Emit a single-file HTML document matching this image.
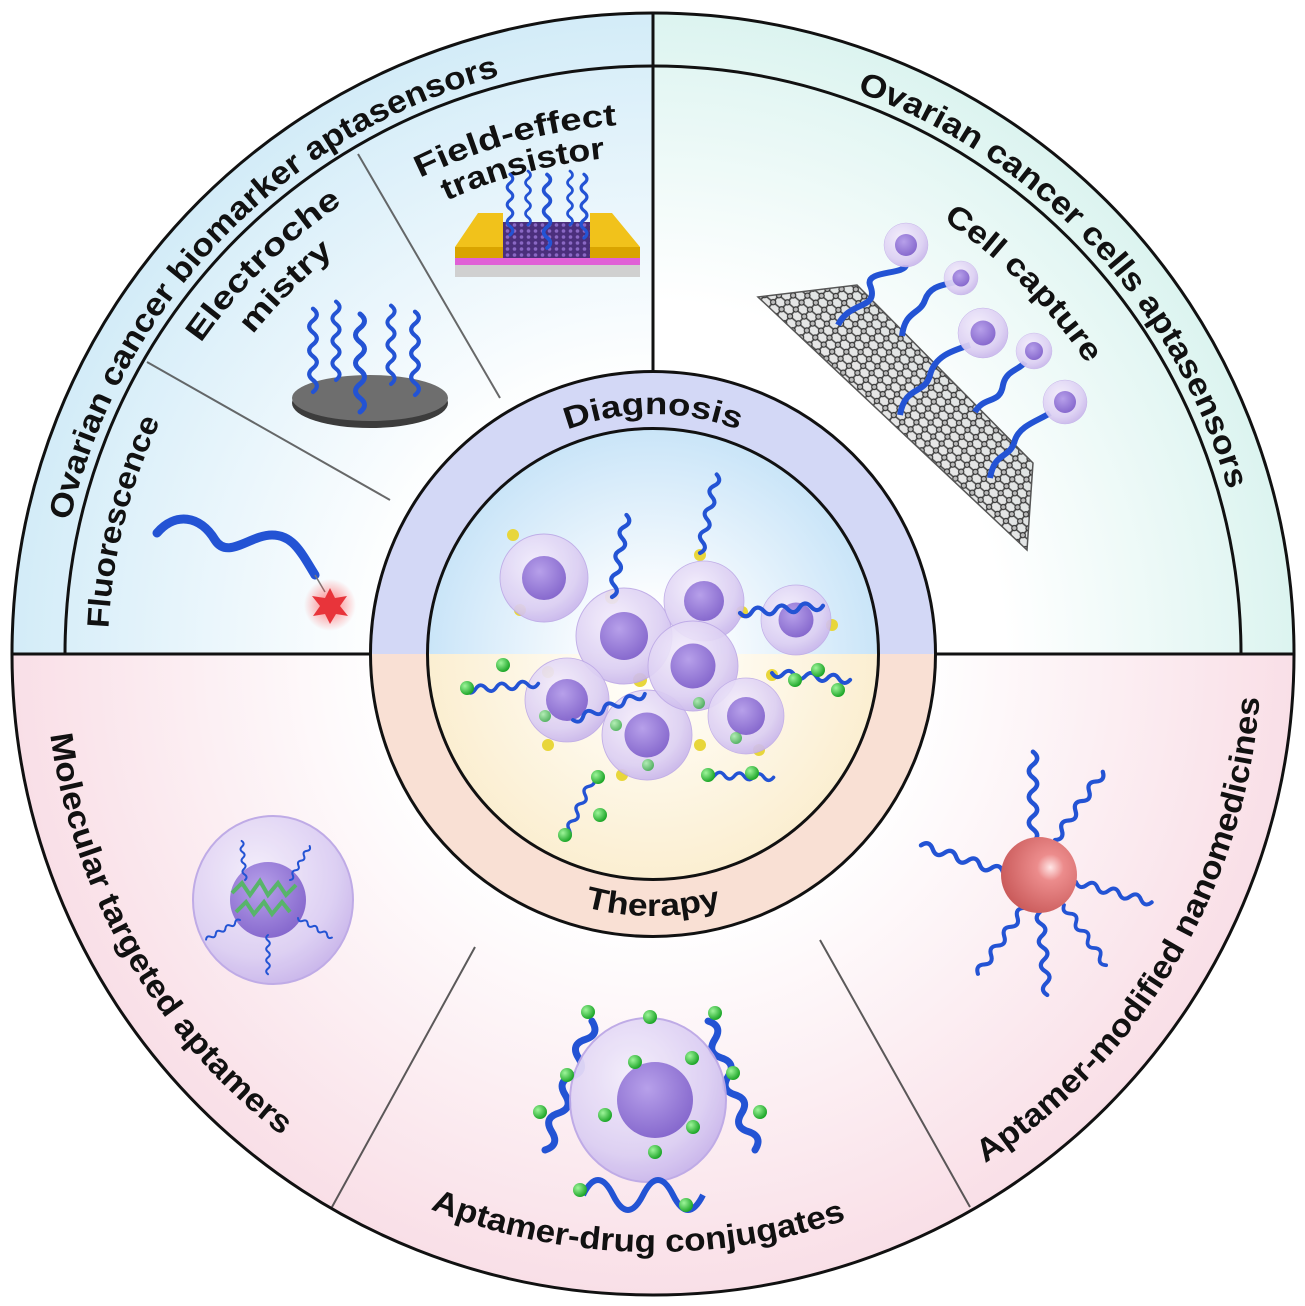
<!DOCTYPE html>
<html><head><meta charset="utf-8"><style>
html,body{margin:0;padding:0;background:#fff}
svg{display:block}
text{font-family:"Liberation Sans",Arial,sans-serif;font-weight:bold;fill:#111}
</style></head><body>
<svg width="1305" height="1306" viewBox="0 0 1305 1306" xmlns="http://www.w3.org/2000/svg">
<defs>
<clipPath id="outer"><circle cx="653" cy="654" r="641"/></clipPath>
<radialGradient id="gUL" cx="653" cy="654" r="640" gradientUnits="userSpaceOnUse">
<stop offset="0.42" stop-color="#ffffff"/><stop offset="1" stop-color="#d3ecf8"/></radialGradient>
<radialGradient id="gUR" cx="653" cy="654" r="640" gradientUnits="userSpaceOnUse">
<stop offset="0.55" stop-color="#ffffff"/><stop offset="1" stop-color="#dcf4f0"/></radialGradient>
<radialGradient id="gLo" cx="653" cy="654" r="640" gradientUnits="userSpaceOnUse">
<stop offset="0.42" stop-color="#ffffff"/><stop offset="1" stop-color="#f9dfe7"/></radialGradient>
<radialGradient id="gInTop" cx="653" cy="654" r="230" gradientUnits="userSpaceOnUse">
<stop offset="0.2" stop-color="#ffffff"/><stop offset="1" stop-color="#c8e4f8"/></radialGradient>
<radialGradient id="gInBot" cx="653" cy="654" r="230" gradientUnits="userSpaceOnUse">
<stop offset="0.2" stop-color="#fffdf6"/><stop offset="1" stop-color="#fbeed0"/></radialGradient>
<radialGradient id="cellG" cx="0.4" cy="0.35" r="0.7">
<stop offset="0" stop-color="#f4eefc"/><stop offset="0.7" stop-color="#dccff3"/><stop offset="1" stop-color="#c6b2ea"/></radialGradient>
<radialGradient id="nucG" cx="0.4" cy="0.35" r="0.7">
<stop offset="0" stop-color="#b7a0ea"/><stop offset="1" stop-color="#8466cc"/></radialGradient>
<radialGradient id="sphG" cx="0.65" cy="0.4" r="0.7">
<stop offset="0" stop-color="#ffe6e6"/><stop offset="0.25" stop-color="#ec8c8c"/><stop offset="1" stop-color="#c85858"/></radialGradient>
<radialGradient id="glow" cx="0.5" cy="0.5" r="0.5">
<stop offset="0" stop-color="#ff4040" stop-opacity="0.7"/><stop offset="1" stop-color="#ff4040" stop-opacity="0"/></radialGradient>
<radialGradient id="ballG" cx="0.35" cy="0.35" r="0.65">
<stop offset="0" stop-color="#9ef59a"/><stop offset="1" stop-color="#1fa72a"/></radialGradient>
<pattern id="graph" width="11" height="9" patternUnits="userSpaceOnUse" patternTransform="rotate(40)">
<rect width="11" height="9" fill="#9a9a9a" opacity="0.25"/>
<path d="M0 4.5 H11 M5.5 0 V9" stroke="#444" stroke-width="1.6" fill="none"/>
<circle cx="5.5" cy="4.5" r="2.6" fill="#bbb" stroke="#333" stroke-width="1.2"/></pattern>
<pattern id="fetg" width="7" height="6" patternUnits="userSpaceOnUse">
<rect width="7" height="6" fill="#4b2f7c"/><circle cx="3.5" cy="3" r="1.8" fill="#8a68c4"/></pattern>
<path id="hx" d="M0 0 q9 -7 0 -14 t0 -14 t0 -14 t0 -14 t0 -14 t0 -14 t0 -14" fill="none" stroke="#2353d4" stroke-width="5" stroke-linecap="round"/>
<g id="cell"><circle r="1" fill="url(#cellG)" stroke="#bda9e6" stroke-width="0.02" opacity="0.92"/><circle r="0.5" fill="url(#nucG)"/></g>
<path id="a1" d="M56.4 612.3 A598 598 0 0 1 590.5 59.3"/>
<path id="a2" d="M725.9 60.5 A598 598 0 0 1 1250.2 622.7"/>
<path id="a3" d="M129.0 804.3 A545 545 0 0 1 261.0 275.4"/>
<path id="a4" d="M121.8 511.7 A545 545 0 0 1 512.1 127.6"/>
<path id="a4b" d="M158.5 521.3 A512 512 0 0 1 520.5 159.5"/>
<path id="a5" d="M278.2 279.2 A530 530 0 0 1 790.2 142.1"/>
<path id="a5b" d="M300.9 301.9 A498 498 0 0 1 781.9 173.0"/>
<path id="a6" d="M788.1 149.8 A522 522 0 0 1 1157.2 518.9"/>
<path id="a7" d="M445.2 534 A240 240 0 0 1 860.8 534"/>
<path id="a8" d="M426.1 785 A262 262 0 0 0 879.9 785"/>
<path id="a9" d="M54.2 548.4 A608 608 0 0 0 445 1225.4"/>
<path id="a10" d="M256.8 1101.9 A598 598 0 0 0 1025.3 1122"/>
<path id="a11" d="M856 1227.1 A608 608 0 0 0 1252.7 553.7"/>
</defs>

<g clip-path="url(#outer)">
<rect x="0" y="0" width="653" height="654" fill="url(#gUL)"/>
<rect x="653" y="0" width="652" height="654" fill="url(#gUR)"/>
<rect x="0" y="654" width="1305" height="652" fill="url(#gLo)"/>
</g>

<!-- lines -->
<path d="M65 654 A588 588 0 0 1 1241 654" fill="none" stroke="#111" stroke-width="3"/>
<line x1="12" y1="654" x2="1294" y2="654" stroke="#111" stroke-width="3"/>
<line x1="653" y1="13" x2="653" y2="372" stroke="#111" stroke-width="3"/>
<line x1="147" y1="362" x2="390" y2="500" stroke="#444" stroke-width="2" opacity="0.8"/>
<line x1="358" y1="154" x2="500" y2="398" stroke="#444" stroke-width="2" opacity="0.8"/>
<line x1="475" y1="947" x2="332" y2="1207" stroke="#333" stroke-width="2" opacity="0.8"/>
<line x1="820" y1="940" x2="970" y2="1207" stroke="#333" stroke-width="2" opacity="0.8"/>
<circle cx="653" cy="654" r="641" fill="none" stroke="#111" stroke-width="3"/>

<!-- center ring -->
<path d="M370.5 654 A282.5 282.5 0 0 1 935.5 654 Z" fill="#d3d8f6"/>
<path d="M370.5 654 A282.5 282.5 0 0 0 935.5 654 Z" fill="#f9e0d4"/>
<path d="M427.5 654 A225.5 225.5 0 0 1 878.5 654 Z" fill="url(#gInTop)"/>
<path d="M427.5 654 A225.5 225.5 0 0 0 878.5 654 Z" fill="url(#gInBot)"/>
<circle cx="653" cy="654" r="282.5" fill="none" stroke="#111" stroke-width="3"/>
<circle cx="653" cy="654" r="225.5" fill="none" stroke="#111" stroke-width="3"/>

<!-- texts -->
<text font-size="32"><textPath href="#a1" startOffset="50%" text-anchor="middle" textLength="650" lengthAdjust="spacingAndGlyphs">Ovarian cancer biomarker aptasensors</textPath></text>
<text font-size="32"><textPath href="#a2" startOffset="50%" text-anchor="middle" textLength="565" lengthAdjust="spacingAndGlyphs">Ovarian cancer cells aptasensors</textPath></text>
<text font-size="31"><textPath href="#a3" startOffset="50%" text-anchor="middle" textLength="215" lengthAdjust="spacingAndGlyphs">Fluorescence</textPath></text>
<text font-size="31"><textPath href="#a4" startOffset="50%" text-anchor="middle" textLength="200" lengthAdjust="spacingAndGlyphs">Electroche</textPath></text>
<text font-size="31"><textPath href="#a4b" startOffset="50%" text-anchor="middle" textLength="115" lengthAdjust="spacingAndGlyphs">mistry</textPath></text>
<text font-size="31"><textPath href="#a5" startOffset="50%" text-anchor="middle" textLength="205" lengthAdjust="spacingAndGlyphs">Field-effect</textPath></text>
<text font-size="31"><textPath href="#a5b" startOffset="50%" text-anchor="middle" textLength="165" lengthAdjust="spacingAndGlyphs">transistor</textPath></text>
<text font-size="31"><textPath href="#a6" startOffset="50%" text-anchor="middle" textLength="205" lengthAdjust="spacingAndGlyphs">Cell capture</textPath></text>
<text font-size="31"><textPath href="#a7" startOffset="50%" text-anchor="middle" textLength="175" lengthAdjust="spacingAndGlyphs">Diagnosis</textPath></text>
<text font-size="31"><textPath href="#a8" startOffset="50%" text-anchor="middle" textLength="138" lengthAdjust="spacingAndGlyphs">Therapy</textPath></text>
<text font-size="32"><textPath href="#a9" startOffset="50%" text-anchor="middle" textLength="475" lengthAdjust="spacingAndGlyphs">Molecular targeted aptamers</textPath></text>
<text font-size="32"><textPath href="#a10" startOffset="50%" text-anchor="middle" textLength="425" lengthAdjust="spacingAndGlyphs">Aptamer-drug conjugates</textPath></text>
<text font-size="32"><textPath href="#a11" startOffset="50%" text-anchor="middle" textLength="560" lengthAdjust="spacingAndGlyphs">Aptamer-modified nanomedicines</textPath></text>

<!-- Fluorescence probe -->
<path d="M157 533 C175 512 200 515 215 540 C228 560 250 535 272 535 C292 535 300 550 315 575" fill="none" stroke="#2353d4" stroke-width="9" stroke-linecap="round"/>
<path d="M315 575 L325 592" stroke="#777" stroke-width="1.5"/>
<circle cx="330" cy="605" r="26" fill="url(#glow)"/>
<polygon points="330,588 335,598 347,596 340,606 348,616 336,614 330,624 325,614 313,616 320,606 312,596 325,598" fill="#e8343a"/>

<!-- Electrode -->
<ellipse cx="370" cy="403" rx="78" ry="25" fill="#3c3c3c"/>
<ellipse cx="370" cy="398" rx="78" ry="23" fill="#6e6e6e"/>
<use href="#hx" transform="translate(313,392) scale(0.85)"/>
<use href="#hx" transform="translate(336,380) scale(0.8)"/>
<use href="#hx" transform="translate(360,412) scale(1.0)"/>
<use href="#hx" transform="translate(391,384) scale(0.8)"/>
<use href="#hx" transform="translate(415,395) scale(0.85)"/>

<!-- FET -->
<rect x="455" y="265" width="185" height="12" fill="#d0d0d0"/>
<rect x="455" y="258" width="185" height="7" fill="#e060d6"/>
<polygon points="503,222 590,222 600,258 490,258" fill="url(#fetg)"/>
<polygon points="455,247 478,213 503,213 503,247" fill="#f1c21b"/>
<rect x="455" y="247" width="48" height="11" fill="#d9a400"/>
<polygon points="590,213 612,213 640,247 590,247" fill="#f1c21b"/>
<rect x="590" y="247" width="50" height="11" fill="#d9a400"/>
<use href="#hx" transform="translate(510,235) scale(0.62)"/>
<use href="#hx" transform="translate(528,225) scale(0.55)"/>
<use href="#hx" transform="translate(547,248) scale(0.75)"/>
<use href="#hx" transform="translate(570,225) scale(0.55)"/>
<use href="#hx" transform="translate(584,238) scale(0.65)"/>

<!-- graphene & cells -->
<polygon points="758,297 857,285 1033,463 1027,550" fill="url(#graph)" stroke="#555" stroke-width="1.5"/>
<path d="M838 325 C850 300 880 310 870 285 C865 270 905 275 906 265" fill="none" stroke="#2353d4" stroke-width="6"/>
<path d="M902 336 C905 310 920 315 925 300 C930 285 945 285 955 282" fill="none" stroke="#2353d4" stroke-width="6"/>
<path d="M900 415 C905 385 925 395 930 375 C935 355 955 350 970 345" fill="none" stroke="#2353d4" stroke-width="6"/>
<path d="M975 412 C985 395 1000 405 1003 385 C1006 370 1020 370 1025 362" fill="none" stroke="#2353d4" stroke-width="6"/>
<path d="M990 478 C995 450 1010 460 1015 440 C1020 425 1040 420 1050 413" fill="none" stroke="#2353d4" stroke-width="6"/>
<use href="#cell" transform="translate(906,245) scale(22)"/>
<use href="#cell" transform="translate(961,278) scale(17)"/>
<use href="#cell" transform="translate(983,333) scale(25)"/>
<use href="#cell" transform="translate(1034,351) scale(18)"/>
<use href="#cell" transform="translate(1065,402) scale(22)"/>

<!-- center cluster -->
<g fill="#e8d63a">
<circle cx="513" cy="535" r="6"/><circle cx="520" cy="610" r="6"/><circle cx="612" cy="597" r="7"/><circle cx="700" cy="555" r="6"/>
<circle cx="742" cy="612" r="6"/><circle cx="832" cy="625" r="6"/><circle cx="548" cy="672" r="6"/><circle cx="640" cy="680" r="7"/>
<circle cx="772" cy="675" r="6"/><circle cx="548" cy="745" r="6"/><circle cx="700" cy="745" r="6"/><circle cx="759" cy="750" r="6"/><circle cx="622" cy="775" r="6"/>
</g>
<use href="#cell" transform="translate(544,578) scale(44)"/>
<use href="#cell" transform="translate(624,636) scale(48)"/>
<use href="#cell" transform="translate(704,601) scale(40)"/>
<use href="#cell" transform="translate(796,620) scale(35)"/>
<use href="#cell" transform="translate(567,700) scale(42)"/>
<use href="#cell" transform="translate(647,735) scale(45)"/>
<use href="#cell" transform="translate(693,666) scale(45)"/>
<use href="#cell" transform="translate(746,716) scale(38)"/>
<use href="#hx" transform="translate(612,597) rotate(10) scale(0.85)"/>
<use href="#hx" transform="translate(700,553) rotate(12) scale(0.82)"/>
<use href="#hx" transform="translate(740,613) rotate(85) scale(0.85)"/>
<use href="#hx" transform="translate(465,690) rotate(85) scale(0.75)"/>
<use href="#hx" transform="translate(573,720) rotate(70) scale(0.78)"/>
<use href="#hx" transform="translate(772,673) rotate(95) scale(0.8)"/>
<use href="#hx" transform="translate(565,838) rotate(25) scale(0.68)"/>
<use href="#hx" transform="translate(705,775) rotate(92) scale(0.7)"/>
<g fill="url(#ballG)">
<circle cx="467" cy="688" r="7"/><circle cx="503" cy="665" r="7"/><circle cx="598" cy="777" r="7"/><circle cx="600" cy="815" r="7"/><circle cx="565" cy="835" r="7"/>
<circle cx="795" cy="680" r="7"/><circle cx="818" cy="670" r="7"/><circle cx="838" cy="690" r="7"/><circle cx="708" cy="775" r="7"/><circle cx="752" cy="773" r="7"/>
<circle cx="545" cy="716" r="6" opacity="0.7"/><circle cx="616" cy="725" r="6" opacity="0.7"/><circle cx="648" cy="765" r="6" opacity="0.7"/><circle cx="699" cy="703" r="6" opacity="0.7"/><circle cx="736" cy="738" r="6" opacity="0.7"/>
</g>

<!-- Molecular targeted cell -->
<ellipse cx="273" cy="900" rx="80" ry="84" fill="url(#cellG)" stroke="#bca8e6" stroke-width="2" opacity="0.95"/>
<circle cx="268" cy="900" r="38" fill="url(#nucG)"/>
<path d="M232 893 l10 -10 l8 12 l10 -14 l8 14 l10 -12 l8 12 l10 -10 M236 912 l10 -10 l8 12 l10 -12 l8 12 l10 -12 l8 10" fill="none" stroke="#58b46a" stroke-width="4"/>
<use href="#hx" transform="translate(245,880) rotate(-5) scale(0.4)"/>
<use href="#hx" transform="translate(290,880) rotate(30) scale(0.4)"/>
<use href="#hx" transform="translate(240,920) rotate(-120) scale(0.4)"/>
<use href="#hx" transform="translate(298,918) rotate(120) scale(0.4)"/>
<use href="#hx" transform="translate(268,935) rotate(180) scale(0.4)"/>

<!-- nanoparticle -->
<use href="#hx" transform="translate(1033,842) rotate(0) scale(0.92)"/>
<use href="#hx" transform="translate(1055,840) rotate(35) scale(0.85)"/>
<use href="#hx" transform="translate(1003,872) rotate(-72) scale(0.88)"/>
<use href="#hx" transform="translate(1076,882) rotate(105) scale(0.8)"/>
<use href="#hx" transform="translate(1024,908) rotate(-145) scale(0.82)"/>
<use href="#hx" transform="translate(1040,912) rotate(175) scale(0.85)"/>
<use href="#hx" transform="translate(1064,905) rotate(145) scale(0.75)"/>
<circle cx="1039" cy="875" r="38" fill="url(#sphG)"/>

<!-- drug conjugate cell -->
<use href="#hx" transform="translate(545,1150) rotate(20) scale(1.4)"/>
<use href="#hx" transform="translate(755,1150) rotate(-20) scale(1.4)"/>
<ellipse cx="648" cy="1100" rx="78" ry="82" fill="url(#cellG)" stroke="#bca8e6" stroke-width="2" opacity="0.95"/>
<circle cx="655" cy="1100" r="38" fill="url(#nucG)"/>
<path d="M583 1195 q15 -30 30 0 t30 0 t30 0 t30 0" fill="none" stroke="#2353d4" stroke-width="6"/>
<g fill="url(#ballG)">
<circle cx="588" cy="1012" r="7"/><circle cx="650" cy="1017" r="7"/><circle cx="715" cy="1013" r="7"/><circle cx="635" cy="1062" r="7"/><circle cx="692" cy="1058" r="7"/>
<circle cx="733" cy="1073" r="7"/><circle cx="567" cy="1075" r="7"/><circle cx="605" cy="1115" r="7"/><circle cx="540" cy="1112" r="7"/><circle cx="760" cy="1112" r="7"/>
<circle cx="693" cy="1127" r="7"/><circle cx="655" cy="1152" r="7"/><circle cx="580" cy="1190" r="7"/><circle cx="686" cy="1205" r="7"/>
</g>
</svg>
</body></html>
